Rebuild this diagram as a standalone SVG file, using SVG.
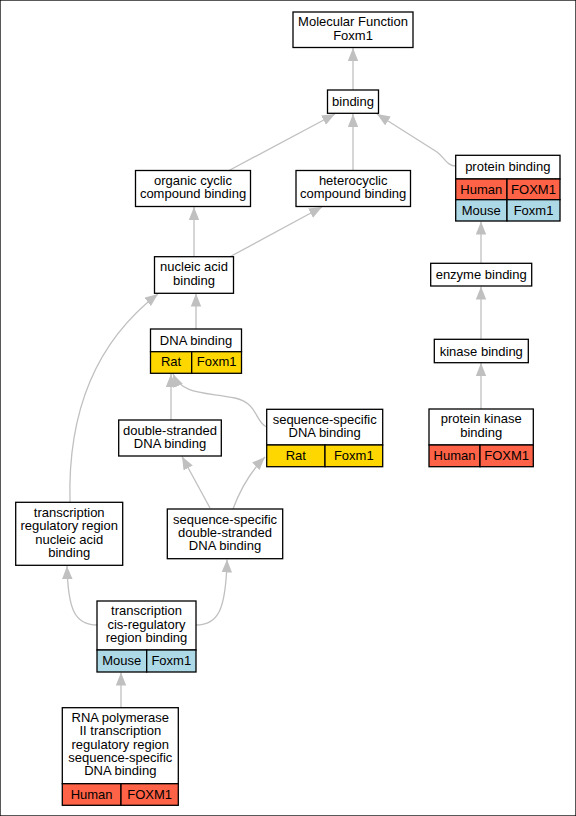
<svg xmlns="http://www.w3.org/2000/svg" width="576" height="816" viewBox="0 0 576 816">
<style>
rect{stroke:#000;stroke-width:1.3}
.w{fill:#fff}.h{fill:#ff6347}.m{fill:#add8e6}.r{fill:#ffd700}
text{font-family:"Liberation Sans",Arial,sans-serif;font-size:13px;text-anchor:middle;fill:#000}
.e path{fill:none;stroke:#c0c0c0;stroke-width:1.3;marker-end:url(#a)}
</style>
<defs>
<marker id="a" viewBox="0 0 13 10.5" refX="13" refY="5.25" markerWidth="13" markerHeight="10.5" markerUnits="userSpaceOnUse" orient="auto">
<path d="M0,0L13,5.25L0,10.5z" fill="#c0c0c0"/>
</marker>
</defs>
<rect width="576" height="816" fill="#fff" stroke="none"/>
<g class="e">
<path d="M353,90L353,48"/>
<path d="M229,170.5L335,114"/>
<path d="M353,170.5L353,114"/>
<path d="M455.7,166C447,166 445,158 437,152L377,114"/>
<path d="M194,256.7L194,207"/>
<path d="M230,256.7L322,207"/>
<path d="M196,329L196,293.5"/>
<path d="M70,502.3C68,430 85,350 158,294"/>
<path d="M171,420L171,374"/>
<path d="M266.7,427C255,422 258,403 235,398C205,392 182,395 173,374"/>
<path d="M210,508L182,456.5"/>
<path d="M233,509C240,490 250,472 265,457"/>
<path d="M97,625C75,625 68,610 67,566"/>
<path d="M196,625C218,625 226,610 227,559.5"/>
<path d="M121,707.7L121,672.5"/>
<path d="M481,263.3L481,221.5"/>
<path d="M481,339.3L481,286.5"/>
<path d="M481,409L481,363"/>
</g>
<g id="mf"><rect class="w" x="293" y="12" width="120" height="35.5"/><text x="353" y="26.4">Molecular Function</text><text x="353" y="39.7">Foxm1</text></g>
<g id="binding"><rect class="w" x="327.5" y="90" width="51" height="23.3"/><text x="353" y="105.8">binding</text></g>
<g id="organic"><rect class="w" x="135.5" y="170.5" width="115" height="36"/><text x="193" y="185">organic cyclic</text><text x="193" y="198.3">compound binding</text></g>
<g id="hetero"><rect class="w" x="296" y="170.5" width="114.5" height="36"/><text x="353.2" y="185">heterocyclic</text><text x="353.2" y="198.3">compound binding</text></g>
<g id="protein"><rect class="w" x="455.7" y="155.3" width="104.3" height="23.7"/><rect class="h" x="455.7" y="179" width="51.3" height="20.7"/><rect class="h" x="507" y="179" width="53" height="20.7"/><rect class="m" x="455.7" y="199.7" width="51.3" height="21.3"/><rect class="m" x="507" y="199.7" width="53" height="21.3"/><text x="507.8" y="170.8">protein binding</text><text x="481.3" y="193.8">Human</text><text x="533.5" y="193.8">FOXM1</text><text x="481.3" y="214.8">Mouse</text><text x="533.5" y="214.8">Foxm1</text></g>
<g id="nucleic"><rect class="w" x="154.5" y="256.7" width="79" height="36.6"/><text x="194" y="271.3">nucleic acid</text><text x="194" y="284.6">binding</text></g>
<g id="dna"><rect class="w" x="150.5" y="329" width="91" height="22.7"/><rect class="r" x="150.5" y="351.7" width="41.2" height="21.6"/><rect class="r" x="191.7" y="351.7" width="49.8" height="21.6"/><text x="196" y="344.8">DNA binding</text><text x="171.1" y="366.3">Rat</text><text x="216.6" y="366.3">Foxm1</text></g>
<g id="ds"><rect class="w" x="118.7" y="420" width="102.6" height="36"/><text x="170" y="434.5">double-stranded</text><text x="170" y="447.8">DNA binding</text></g>
<g id="ssdna"><rect class="w" x="266.7" y="409.3" width="116" height="35.7"/><rect class="r" x="266.7" y="445" width="58.3" height="21.7"/><rect class="r" x="325" y="445" width="57.7" height="21.7"/><text x="324.7" y="423.5">sequence-specific</text><text x="324.7" y="436.8">DNA binding</text><text x="295.8" y="460">Rat</text><text x="353.8" y="460">Foxm1</text></g>
<g id="trn"><rect class="w" x="15.7" y="502.3" width="107" height="63"/><text x="69.2" y="516.9">transcription</text><text x="69.2" y="530.2">regulatory region</text><text x="69.2" y="543.5">nucleic acid</text><text x="69.2" y="556.8">binding</text></g>
<g id="ssds"><rect class="w" x="167.3" y="509" width="115.4" height="49.7"/><text x="225" y="523.5">sequence-specific</text><text x="225" y="536.8">double-stranded</text><text x="225" y="550.1">DNA binding</text></g>
<g id="tcrb"><rect class="w" x="97" y="601" width="99" height="49"/><rect class="m" x="97" y="650" width="49.7" height="22"/><rect class="m" x="146.7" y="650" width="49.3" height="22"/><text x="146.5" y="615.2">transcription</text><text x="146.5" y="628.5">cis-regulatory</text><text x="146.5" y="641.8">region binding</text><text x="121.8" y="665.3">Mouse</text><text x="171.3" y="665.3">Foxm1</text></g>
<g id="rnapol"><rect class="w" x="62.3" y="707.7" width="116" height="76"/><rect class="h" x="62.3" y="783.7" width="58.7" height="21.6"/><rect class="h" x="121" y="783.7" width="57.3" height="21.6"/><text x="120.3" y="722.1">RNA polymerase</text><text x="120.3" y="735.4">II transcription</text><text x="120.3" y="748.7">regulatory region</text><text x="120.3" y="762">sequence-specific</text><text x="120.3" y="775.3">DNA binding</text><text x="91.6" y="798.8">Human</text><text x="149.7" y="798.8">FOXM1</text></g>
<g id="enzyme"><rect class="w" x="430.7" y="263.3" width="101" height="22.7"/><text x="481.2" y="279.2">enzyme binding</text></g>
<g id="kinase"><rect class="w" x="434.3" y="339.3" width="94" height="23.4"/><text x="481.3" y="355.5">kinase binding</text></g>
<g id="pkb"><rect class="w" x="429" y="409" width="104.3" height="36"/><rect class="h" x="429" y="445" width="51" height="21.7"/><rect class="h" x="480" y="445" width="53.3" height="21.7"/><text x="481.2" y="423.3">protein kinase</text><text x="481.2" y="436.6">binding</text><text x="454.5" y="460">Human</text><text x="506.7" y="460">FOXM1</text></g>
</svg>
